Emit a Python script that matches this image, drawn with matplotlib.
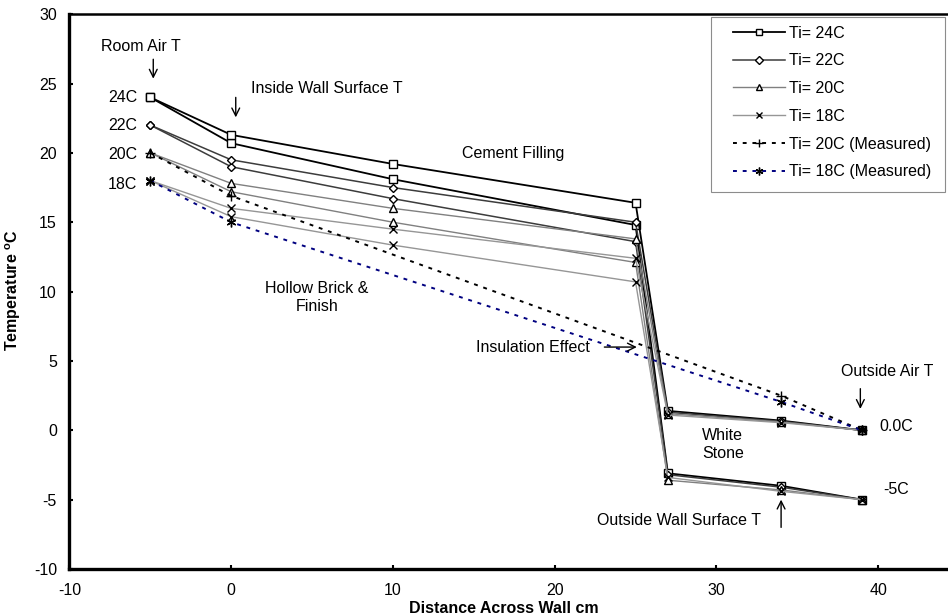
import matplotlib
matplotlib.use("Agg")
import matplotlib.pyplot as plt
from matplotlib.patches import Rectangle

plt.rcParams['font.family'] = ['Liberation Sans', 'DejaVu Sans']
plt.rcParams['mathtext.fontset'] = 'custom'
plt.rcParams['mathtext.bf'] = 'Liberation Sans:bold'
plt.rcParams['mathtext.rm'] = 'Liberation Sans'
plt.rcParams['axes.unicode_minus'] = False

# distance across wall (cm)
x_sim = [-5, 0, 10, 25, 27, 34, 39]
x_meas = [-5, 0, 34, 39]

# simulated profiles, outside air 0.0C
t24_out0 = [24, 21.3, 19.2, 16.4, 1.4, 0.7, 0]
t22_out0 = [22, 19.5, 17.5, 15.0, 1.3, 0.65, 0]
t20_out0 = [20, 17.8, 16.0, 13.8, 1.2, 0.6, 0]
t18_out0 = [18, 16.0, 14.5, 12.4, 1.1, 0.55, 0]
# simulated profiles, outside air -5C
t24_out5 = [24, 20.7, 18.1, 14.8, -3.1, -4.0, -5]
t22_out5 = [22, 19.0, 16.7, 13.6, -3.2, -4.1, -5]
t20_out5 = [20, 17.2, 15.0, 12.1, -3.6, -4.3, -5]
t18_out5 = [18, 15.4, 13.35, 10.7, -3.4, -4.4, -5]

# measured
t20_meas = [20, 16.9, 2.5, 0]
t18_meas = [18, 15.0, 2.05, 0]

fig = plt.figure(figsize=(9.48, 6.16), dpi=100)
ax = fig.add_axes([0.0733, 0.0763, 0.9383, 0.9007])

sims = [
    ('Ti= 24C', t24_out0, t24_out5, 's', 'black', 1.3),
    ('Ti= 22C', t22_out0, t22_out5, 'D', '#3c3c3c', 1.1),
    ('Ti= 20C', t20_out0, t20_out5, '^', '#808080', 1.0),
    ('Ti= 18C', t18_out0, t18_out5, 'x', '#969696', 1.0),
]
for lab, y0, y5, mk, col, lw in sims:
    ms = 4.5 if mk == 'D' else 5.5
    ax.plot(x_sim, y5, color=col, lw=lw, marker=mk, ms=ms, mfc='white', mec='black', mew=1.0)
    ax.plot(x_sim, y0, color=col, lw=lw, marker=mk, ms=ms, mfc='white', mec='black', mew=1.0, label=lab)

ax.plot(x_meas, t20_meas, color='black', lw=1.4, ls=(0, (2, 3)), marker='+', ms=7, mec='black', mew=1.0,
        label='Ti= 20C (Measured)')
ax.plot(x_meas, t18_meas, color='#000080', lw=1.4, ls=(0, (2, 3)), marker=(6, 2, 0), ms=7, mec='black', mew=1.0,
        label='Ti= 18C (Measured)')

ax.set_xlim(-10, 45)
ax.set_ylim(-10, 30)
ax.set_xticks([-10, 0, 10, 20, 30, 40])
ax.set_yticks([-10, -5, 0, 5, 10, 15, 20, 25, 30])
ax.tick_params(direction='in', length=3, width=1.5, labelsize=11.5, pad=9)
ax.tick_params(axis='x', pad=10)
ax.spines['left'].set_linewidth(2.4)
ax.spines['bottom'].set_linewidth(2.4)
ax.spines['top'].set_linewidth(1.8)
ax.spines['right'].set_visible(False)

ax.set_xlabel('Distance Across Wall cm', fontsize=11.5, fontweight='bold')
ax.xaxis.set_label_coords(0.488, -0.058)
ax.set_ylabel('Temperature $^\\mathbf{o}$C', fontsize=11.5, fontweight='bold')
ax.yaxis.set_label_coords(-0.052, 0.503)

fs = 11.5
arr = dict(arrowstyle='->', color='black', lw=1.0, mutation_scale=14)
ax.text(-5.6, 27.7, 'Room Air T', ha='center', va='center', fontsize=fs)
ax.annotate('', xy=(-4.82, 25.15), xytext=(-4.82, 26.95), arrowprops=arr)
for lab, yv in [('24C', 24), ('22C', 21.95), ('20C', 19.85), ('18C', 17.7)]:
    ax.text(-5.8, yv, lab, ha='right', va='center', fontsize=fs)
ax.text(1.2, 24.65, 'Inside Wall Surface T', ha='left', va='center', fontsize=fs)
ax.annotate('', xy=(0.28, 22.36), xytext=(0.28, 24.2), arrowprops=arr)
ax.text(17.45, 19.98, 'Cement Filling', ha='center', va='center', fontsize=fs)
ax.text(5.3, 9.6, 'Hollow Brick &\nFinish', ha='center', va='center', fontsize=fs, linespacing=1.25)
ax.text(22.2, 6.0, 'Insulation Effect', ha='right', va='center', fontsize=fs)
ax.annotate('', xy=(25.25, 6.0), xytext=(22.9, 6.0), arrowprops=arr)
ax.text(40.55, 4.22, 'Outside Air T', ha='center', va='center', fontsize=fs)
ax.annotate('', xy=(38.9, 1.34), xytext=(38.9, 3.2), arrowprops=arr)
ax.text(40.1, 0.24, '0.0C', ha='left', va='center', fontsize=fs)
ax.text(30.4, -1.05, 'White\nStone', ha='center', va='center', fontsize=fs, linespacing=1.25)
ax.text(40.3, -4.3, '-5C', ha='left', va='center', fontsize=fs)
ax.text(27.7, -6.47, 'Outside Wall Surface T', ha='center', va='center', fontsize=fs)
ax.annotate('', xy=(34.0, -4.8), xytext=(34.0, -7.2), arrowprops=arr)

leg = ax.legend(loc='upper left', bbox_to_anchor=(733 / 948, 1 - 25.5 / 616), bbox_transform=fig.transFigure,
                fontsize=11.5, frameon=False, numpoints=1, handlelength=3.25, handletextpad=0.25,
                labelspacing=0.8, borderpad=0, borderaxespad=0, markerscale=0.8)
# legend box
fig.patches.append(Rectangle((711 / 948, 1 - 192 / 616), (945 - 711) / 948, (192 - 17) / 616,
                             transform=fig.transFigure, fill=False, edgecolor='#8c8c8c', lw=0.8, zorder=1))

fig.savefig('out.png', dpi=100)
